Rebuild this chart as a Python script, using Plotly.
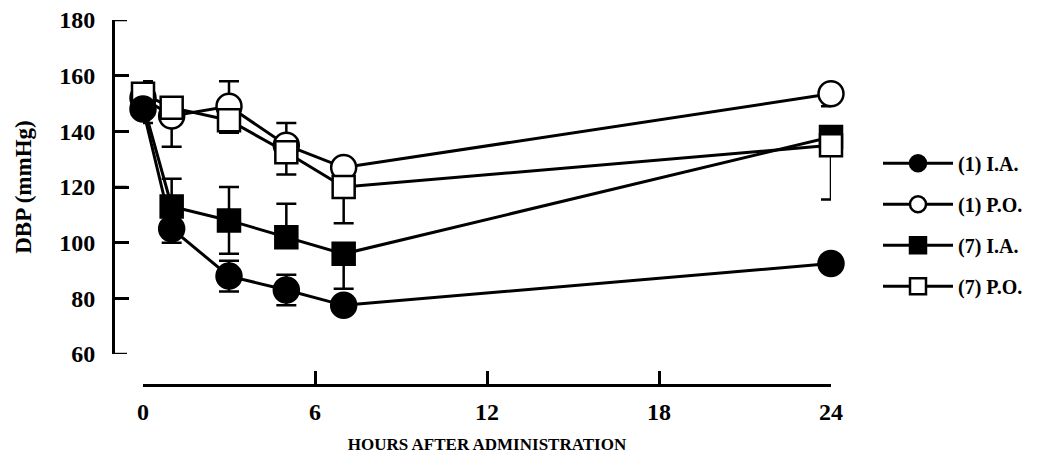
import plotly.graph_objects as go

hours = [0, 1, 3, 5, 7, 24]

ia1 = [148, 105, 88, 83, 77.5, 92.5]
ia1_up = [0, 0, 5.5, 5.5, 0, 0]
ia1_dn = [5, 5, 5.5, 5.5, 0, 0]

po1 = [152, 145.5, 149, 135, 127, 153.5]
po1_up = [0, 0, 9, 8, 0, 0]
po1_dn = [0, 11, 0, 0, 0, 4.5]

ia7 = [150, 113, 108, 102, 96, 138]
ia7_up = [0, 10, 12, 12, 0, 0]
ia7_dn = [0, 0, 12, 0, 12.5, 0]

po7 = [153.5, 148.5, 144, 132.5, 120, 135]
po7_up = [4.5, 0, 0, 0, 0, 0]
po7_dn = [0, 0, 4.5, 8, 13, 19.5]

x_ticks = [0, 6, 12, 18, 24]
y_ticks = [60, 80, 100, 120, 140, 160, 180]

FONT = "Liberation Serif"
OFF = 8  # page body margin
W, H = 1046, 468
L = 113 - OFF
T = 19.5 - OFF
B = H - (385 - OFF)
R = W - (831 - OFF)
pw = W - L - R
ph = H - T - B

fig = go.Figure()

def add(name, y, up, dn, symbol, fill, size, rank):
    fig.add_trace(go.Scatter(
        x=hours, y=y, name=name, mode="lines+markers",
        line=dict(color="black", width=3),
        marker=dict(symbol=symbol, size=size, color=fill,
                    line=dict(color="black", width=2.5)),
        error_y=dict(type="data", symmetric=False, array=up, arrayminus=dn,
                     color="black", thickness=2.5, width=10),
        legendrank=rank, legendgroup=name, cliponaxis=False,
    ))

add("(1) P.O.", po1, po1_up, po1_dn, "circle", "white", 25, 2)
add("(7) I.A.", ia7, ia7_up, ia7_dn, "square", "black", 22, 3)
add("(7) P.O.", po7, po7_up, po7_dn, "square", "white", 22, 4)
add("(1) I.A.", ia1, ia1_up, ia1_dn, "circle", "black", 25, 1)

# y-axis tick marks pointing into the plot (drawn from the tick list)
for v in y_ticks:
    fig.add_shape(type="line", xref="paper", yref="y", xsizemode="pixel",
                  xanchor=0, x0=0, x1=14, y0=v, y1=v,
                  line=dict(color="black", width=2.5), layer="above")

fig.update_layout(
    width=W, height=H,
    margin=dict(l=L, r=R, t=T, b=B, autoexpand=False),
    plot_bgcolor="white", paper_bgcolor="white",
    font=dict(family=FONT, color="black", weight="bold"),
    showlegend=True,
    legend=dict(x=(878 - OFF - L) / pw, xanchor="left",
                y=(385 - 224.5) / ph, yanchor="middle",
                font=dict(size=20, family=FONT, weight="bold", color="black"),
                traceorder="grouped", tracegroupgap=12, itemsizing="trace",
                itemwidth=70, bgcolor="rgba(0,0,0,0)"),
    xaxis=dict(range=[0, 24], domain=[30 / pw, 1], anchor="free", position=0,
               tickvals=x_ticks, ticks="inside", ticklen=13, tickwidth=2.5,
               tickcolor="black",
               showline=True, linewidth=3, linecolor="black", showgrid=False,
               zeroline=False, tickfont=dict(size=24, family=FONT, weight="bold", color="black"),
               ticklabelstandoff=4, ticklabeloverflow="allow",
               title=dict(text="HOURS AFTER ADMINISTRATION",
                          font=dict(size=17, family=FONT, weight="bold", color="black"), standoff=14)),
    yaxis=dict(range=[60, 180], domain=[31 / ph, 1], anchor="free", position=0,
               tickvals=y_ticks, ticks="inside", ticklen=14, tickwidth=2.5,
               tickcolor="black",
               showline=True, linewidth=3, linecolor="black", showgrid=False,
               zeroline=False, tickfont=dict(size=24, family=FONT, weight="bold", color="black"),
               ticklabelstandoff=12, ticklabeloverflow="allow",
               title=dict(text="DBP (mmHg)",
                          font=dict(size=23, family=FONT, weight="bold", color="black"), standoff=20)),
)

fig.write_html("out.html")
